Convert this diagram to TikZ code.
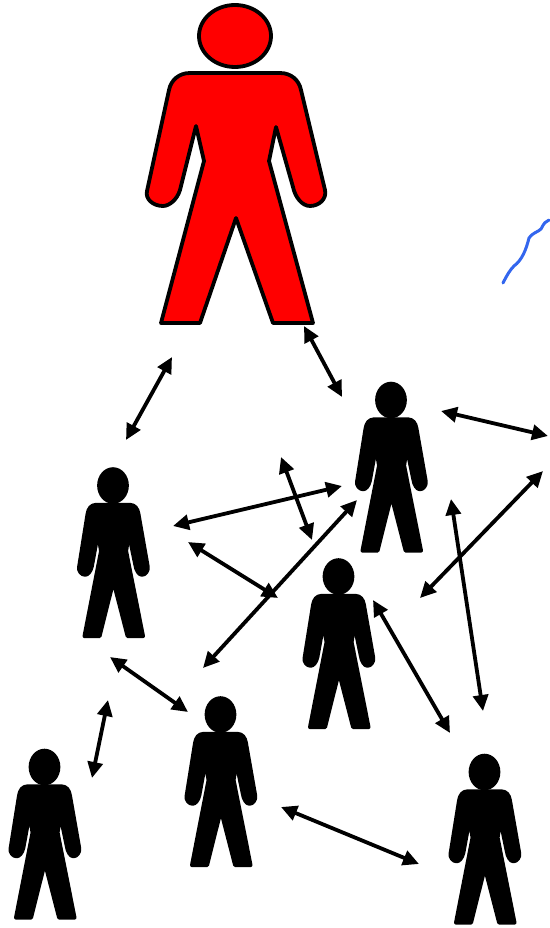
\documentclass[tikz,border=0pt]{standalone}
\usepackage{xcolor}
\usetikzlibrary{arrows.meta}
\definecolor{penblue}{HTML}{3366EE}

\tikzset{
  person/.pic={
    \path[pic actions] (0, 0) ellipse [x radius=36, y radius=31];
    \path[pic actions] (-45, 37) -- (45, 37) .. controls (56, 37) and (64, 44) .. (66, 54)
      -- (90, 154) .. controls (92, 163) and (84, 170) .. (75, 170)
      .. controls (67, 170) and (60, 161) .. (58, 151) -- (41, 91) -- (34, 125)
      -- (78, 287) -- (38, 287) -- (1, 182) -- (-35, 287) -- (-74, 287) -- (-31, 125)
      -- (-39, 90) -- (-55, 154) .. controls (-58, 164) and (-66, 170) .. (-72, 170)
      .. controls (-82, 170) and (-90, 163) .. (-88, 155) -- (-66, 54)
      .. controls (-64, 44) and (-56, 37) .. (-45, 37) -- cycle;
  },
  leader/.style={draw=black, fill=red, line width=3.8pt, line join=round},
  member/.style={draw=black, fill=black, line width=4pt, line join=round, xscale=0.385, yscale=0.525},
  link/.style={{Triangle[length=16pt, width=15pt]}-{Triangle[length=16pt, width=15pt]}, line width=3.8pt, black}
}

\begin{document}
\begin{tikzpicture}[x=1pt, y=-1pt]
  \useasboundingbox (0, 0) rectangle (549, 928);

  % People
  \pic[leader] at (235, 36) {person};
  \pic[member] at (391, 400) {person};
  \pic[member] at (113, 485.5) {person};
  \pic[member] at (338.5, 576.5) {person};
  \pic[member] at (220.5, 714.5) {person};
  \pic[member] at (44.5, 767) {person};
  \pic[member] at (484.5, 772) {person};

  % Arrow ends
  \coordinate (leftA) at (172, 357);
  \coordinate (leftB) at (126, 440);
  \coordinate (rightA) at (304, 326);
  \coordinate (rightB) at (342, 397);
  \coordinate (edgeA) at (441, 411);
  \coordinate (edgeB) at (548, 436);
  \coordinate (longA) at (173, 526);
  \coordinate (longB) at (342, 486);
  \coordinate (shortA) at (281, 457);
  \coordinate (shortB) at (312, 540);
  \coordinate (midA) at (188, 542);
  \coordinate (midB) at (278, 598);
  \coordinate (diagA) at (357, 500);
  \coordinate (diagB) at (203, 668);
  \coordinate (farA) at (543, 471);
  \coordinate (farB) at (420, 598);
  \coordinate (tallA) at (451, 499);
  \coordinate (tallB) at (483, 711);
  \coordinate (lowA) at (373, 600);
  \coordinate (lowB) at (450, 733);
  \coordinate (baseA) at (110, 657);
  \coordinate (baseB) at (188, 712);
  \coordinate (cornerA) at (108, 700);
  \coordinate (cornerB) at (92, 778);
  \coordinate (footA) at (281, 807);
  \coordinate (footB) at (419, 864);

  % Arrows between people
  \draw[link] (leftA) -- (leftB);
  \draw[link] (rightA) -- (rightB);
  \draw[link] (edgeA) -- (edgeB);
  \draw[link] (longA) -- (longB);
  \draw[link] (shortA) -- (shortB);
  \draw[link] (midA) -- (midB);
  \draw[link] (diagA) -- (diagB);
  \draw[link] (farA) -- (farB);
  \draw[link] (tallA) -- (tallB);
  \draw[link] (lowA) -- (lowB);
  \draw[link] (baseA) -- (baseB);
  \draw[link] (cornerA) -- (cornerB);
  \draw[link] (footA) -- (footB);

  % Pen stroke
  \draw[penblue, line width=3pt, line cap=round] (503, 283) .. controls (507, 275) and (510, 270) .. (514, 266)
    .. controls (522, 260) and (526, 250) .. (529, 238) .. controls (532, 233) and (538, 232) .. (541, 229)
    .. controls (544, 223) and (546, 221) .. (549, 220);
\end{tikzpicture}
\end{document}
